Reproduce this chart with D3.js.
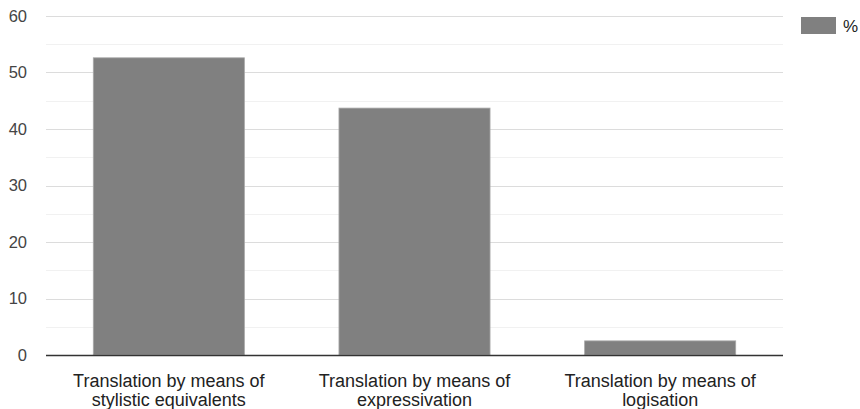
<!DOCTYPE html>
<html>
<head>
<meta charset="utf-8">
<script src="https://cdn.jsdelivr.net/npm/d3@7"></script>
<style>
  html, body { margin: 0; padding: 0; background: #fff; }
  svg { display: block; font-family: "Liberation Sans", Arial, sans-serif; }
</style>
</head>
<body>
<svg id="chart" width="860" height="409"></svg>
<script>
// Share of each translation technique, in percent
const categories = [
  ["Translation by means of", "stylistic equivalents"],
  ["Translation by means of", "expressivation"],
  ["Translation by means of", "logisation"]
];
const values = [52.6, 43.7, 2.5];
const yTicks = [0, 10, 20, 30, 40, 50, 60];
const seriesName = "%";

const svg = d3.select("#chart");
const margin = { left: 46, right: 77, top: 16, bottom: 54 };
const width = 860, height = 409;

const x = d3.scaleBand()
  .domain(d3.range(categories.length))
  .range([margin.left, width - margin.right])
  .paddingInner(0.385)
  .paddingOuter(0.1925);

const y = d3.scaleLinear()
  .domain([0, 60])
  .range([height - margin.bottom, margin.top]);

// minor gridlines every 5
svg.append("g")
  .selectAll("line")
  .data(d3.range(5, 60, 10))
  .join("line")
  .attr("x1", margin.left).attr("x2", width - margin.right)
  .attr("y1", d => Math.round(y(d)) + 0.5).attr("y2", d => Math.round(y(d)) + 0.5)
  .attr("stroke", "#f1f1f1").attr("stroke-width", 1);

// major gridlines
svg.append("g")
  .selectAll("line")
  .data(yTicks.filter(d => d > 0))
  .join("line")
  .attr("x1", margin.left).attr("x2", width - margin.right)
  .attr("y1", d => Math.round(y(d)) + 0.5).attr("y2", d => Math.round(y(d)) + 0.5)
  .attr("stroke", "#dcdcdc").attr("stroke-width", 1);

// y tick labels
svg.append("g")
  .selectAll("text")
  .data(yTicks)
  .join("text")
  .attr("x", 27)
  .attr("y", d => y(d))
  .attr("dy", "0.36em")
  .attr("text-anchor", "end")
  .attr("font-size", 16.5)
  .attr("fill", "#444")
  .text(d => d);

// bars
svg.append("g")
  .selectAll("rect")
  .data(values)
  .join("rect")
  .attr("x", (d, i) => x(i))
  .attr("y", d => y(d))
  .attr("width", x.bandwidth())
  .attr("height", d => y(0) - y(d))
  .attr("fill", "#808080")
  .attr("stroke", "#a8a8a8")
  .attr("stroke-width", 0.8);

// baseline
svg.append("line")
  .attr("x1", margin.left).attr("x2", width - margin.right)
  .attr("y1", y(0) + 0.5).attr("y2", y(0) + 0.5)
  .attr("stroke", "#333").attr("stroke-width", 1.3);

// category labels, two lines each
const labels = svg.append("g")
  .selectAll("text")
  .data(categories)
  .join("text")
  .attr("text-anchor", "middle")
  .attr("font-size", 18)
  .attr("fill", "#222");
labels.each(function (lines, i) {
  d3.select(this).selectAll("tspan")
    .data(lines)
    .join("tspan")
    .attr("x", x(i) + x.bandwidth() / 2)
    .attr("y", (d, j) => 387 + j * 18.5)
    .text(d => d);
});

// legend
const legend = svg.append("g");
legend.append("rect")
  .attr("x", 801).attr("y", 17)
  .attr("width", 35).attr("height", 17)
  .attr("fill", "#808080");
legend.append("text")
  .attr("x", 843).attr("y", 26)
  .attr("dy", "0.36em")
  .attr("font-size", 17)
  .attr("fill", "#222")
  .text(seriesName);
</script>
</body>
</html>
